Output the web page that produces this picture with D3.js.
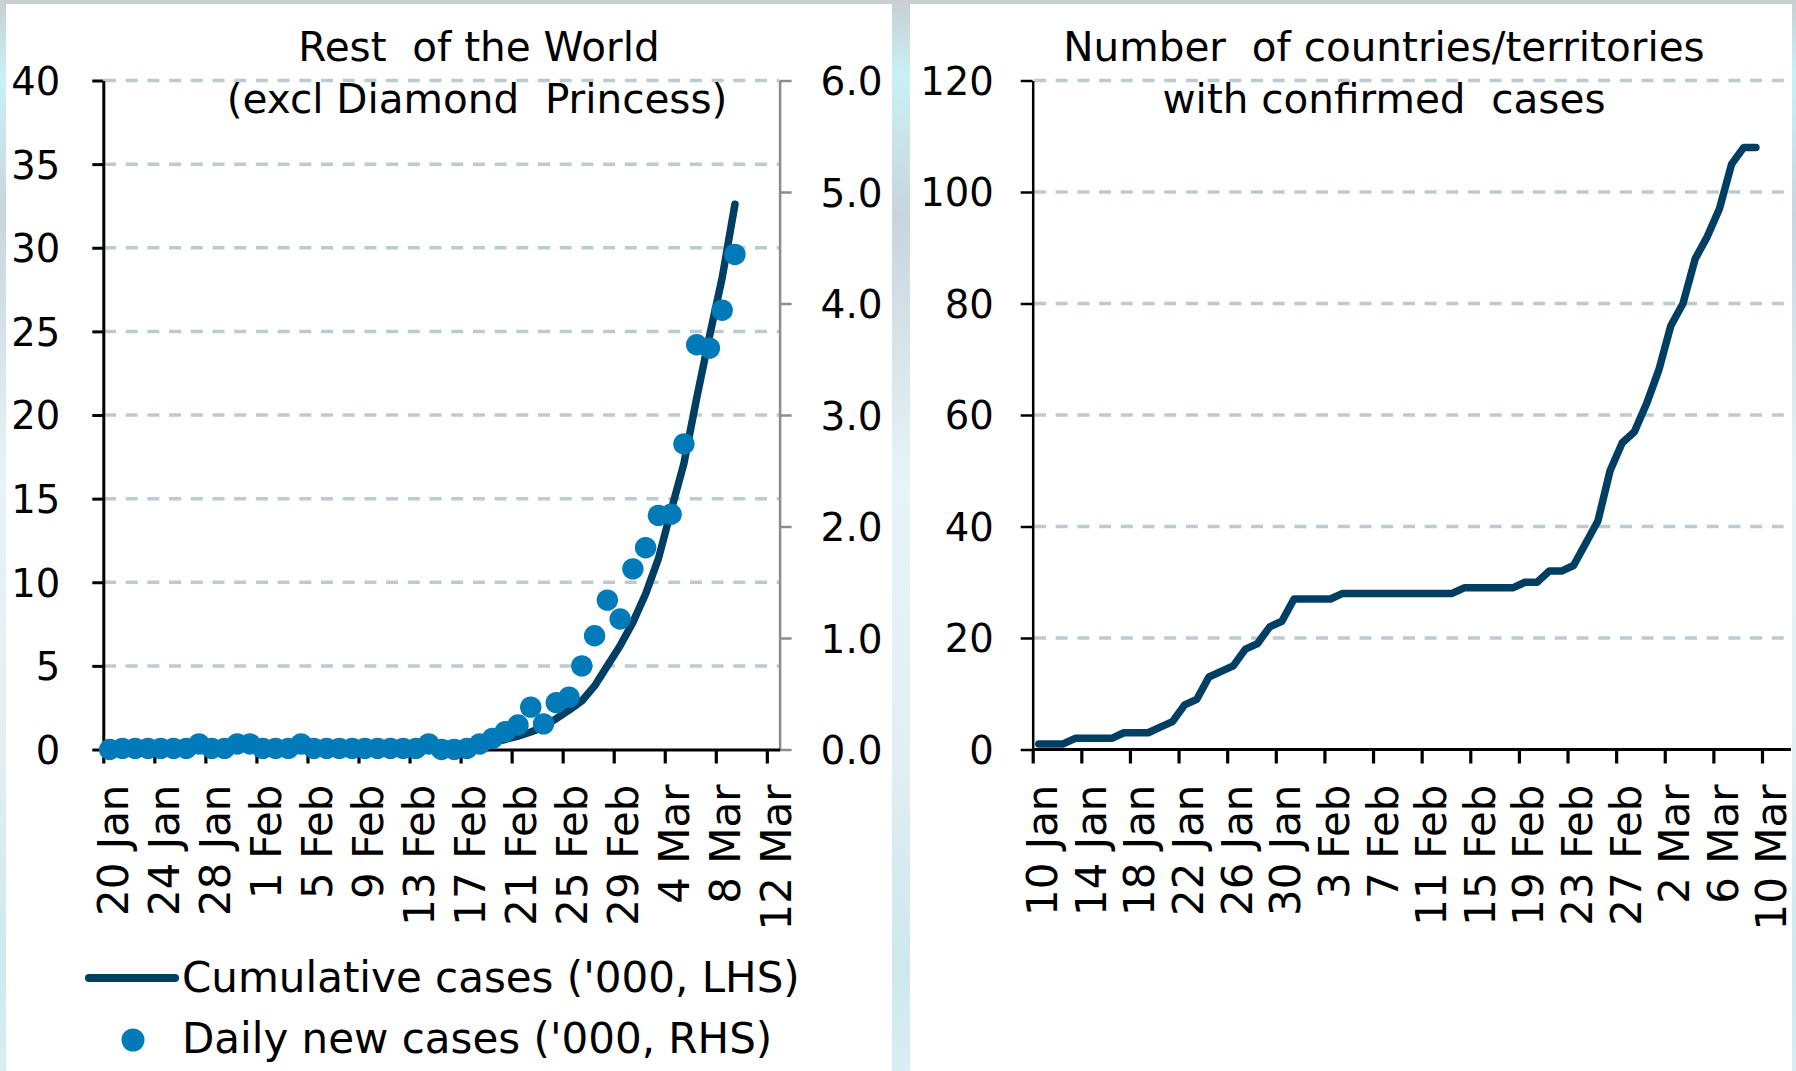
<!DOCTYPE html>
<html>
<head>
<meta charset="utf-8">
<script src="https://cdn.jsdelivr.net/npm/d3@7"></script>
<style>
  html, body { margin: 0; padding: 0; }
  body { width: 1796px; height: 1071px; overflow: hidden; }
  svg text { font-family: "DejaVu Sans", Verdana, sans-serif; fill: #000; white-space: pre; }
</style>
</head>
<body>
<svg id="chart" width="1796" height="1071"></svg>
<script>
// Rest of the World (excl Diamond Princess), one value per day from 20 Jan 2020
const rowStart = new Date(2020, 0, 20);
const rowCumulative = [0.00, 0.01, 0.01, 0.02, 0.02, 0.03, 0.03, 0.05, 0.06, 0.07,
  0.09, 0.11, 0.12, 0.13, 0.14, 0.16, 0.17, 0.18, 0.19, 0.20,
  0.21, 0.22, 0.23, 0.24, 0.25, 0.30, 0.31, 0.32, 0.33, 0.36,
  0.45, 0.60, 0.80, 1.05, 1.35, 1.85, 2.35, 2.90, 3.80, 5.00,
  6.20, 7.60, 9.30, 11.4, 14.3, 17.1, 21.0, 24.7, 28.2, 32.6]; // '000, LHS
const rowDailyNew = [0.00, 0.01, 0.01, 0.01, 0.01, 0.01, 0.01, 0.05, 0.01, 0.01,
  0.05, 0.05, 0.01, 0.01, 0.01, 0.05, 0.01, 0.01, 0.01, 0.01,
  0.01, 0.01, 0.01, 0.01, 0.01, 0.05, 0.00, 0.00, 0.01, 0.05,
  0.10, 0.16, 0.22, 0.38, 0.23, 0.42, 0.47, 0.75, 1.02, 1.34,
  1.17, 1.62, 1.81, 2.10, 2.11, 2.74, 3.63, 3.60, 3.94, 4.44]; // '000, RHS

// number of countries/territories with confirmed cases, daily from 10 Jan 2020
const ctyStart = new Date(2020, 0, 10);
const countries = [1, 1, 1, 2, 2, 2, 2, 3, 3, 3,
  4, 5, 8, 9, 13, 14, 15, 18, 19, 22,
  23, 27, 27, 27, 27, 28, 28, 28, 28, 28,
  28, 28, 28, 28, 28, 29, 29, 29, 29, 29,
  30, 30, 32, 32, 33, 37, 41, 50, 55, 57,
  62, 68, 76, 80, 88, 92, 97, 105, 108, 108];

const lhsTicks = [0, 5, 10, 15, 20, 25, 30, 35, 40];
const rhsTicks = [0, 1, 2, 3, 4, 5, 6];
const ctyTicks = [0, 20, 40, 60, 80, 100, 120];

const NAVY = '#003f63', BLUE = '#007ab8', GRID = '#bccbd2';

const svg = d3.select('#chart');

// background + two white panels
const defs = svg.append('defs');
const bg = defs.append('linearGradient').attr('id', 'bg').attr('x1', 0).attr('y1', 0).attr('x2', 0).attr('y2', 1);
[[0, '#c8ced1'], [0.07, '#c9f1f5'], [0.2, '#c8d5dd'], [0.45, '#e6f4f7'], [0.7, '#e3eef2'], [0.9, '#cde9ee'], [1, '#d8eef3']]
  .forEach(s => bg.append('stop').attr('offset', s[0]).attr('stop-color', s[1]));
svg.append('rect').attr('width', 1796).attr('height', 1071).attr('fill', 'url(#bg)');
svg.append('rect').attr('x', 6).attr('y', 4).attr('width', 886).attr('height', 1067).attr('fill', '#fff');
svg.append('rect').attr('x', 910).attr('y', 4).attr('width', 882).attr('height', 1067).attr('fill', '#fff');

const dayOf = (start, i) => d3.timeHour.offset(d3.timeDay.offset(start, i), 12);
const fmtDate = d3.timeFormat('%-d %b');

function xLabels(g) {
  g.selectAll('.tick text')
    .attr('transform', 'rotate(-90)')
    .attr('x', -35).attr('y', 24).attr('dy', null)
    .style('text-anchor', 'end')
    .style('font-size', '42px');
}
function gridLines(g, scale, ticks, x0, x1) {
  g.selectAll('line.grid').data(ticks.filter(d => d > 0)).enter().append('line')
    .attr('x1', x0).attr('x2', x1)
    .attr('y1', d => scale(d)).attr('y2', d => scale(d))
    .attr('stroke', GRID).attr('stroke-width', 3.5).attr('stroke-dasharray', '12 9.7');
}

// ---------- left chart ----------
const xL = d3.scaleTime().domain([rowStart, new Date(2020, 2, 13)]).range([103.3, 779.6]);
const yL = d3.scaleLinear().domain([0, 40]).range([749.5, 80.5]);
const yR = d3.scaleLinear().domain([0, 6]).range([749.5, 80.5]);

const left = svg.append('g');
gridLines(left, yL, lhsTicks, 104, 779);

const lAxisY = left.append('g').attr('transform', 'translate(103.3,0)')
  .call(d3.axisLeft(yL).tickValues(lhsTicks).tickSize(11).tickSizeOuter(0).tickPadding(32).tickFormat(d3.format('d')));
lAxisY.selectAll('text').style('font-size', '38.5px').attr('dy', '0.36em');
lAxisY.selectAll('line, path').attr('stroke', '#000').attr('stroke-width', 3);

const rAxisY = left.append('g').attr('transform', 'translate(779.6,0)')
  .call(d3.axisRight(yR).tickValues(rhsTicks).tickSize(12).tickSizeOuter(0).tickPadding(29).tickFormat(d3.format('.1f')));
rAxisY.selectAll('text').style('font-size', '39px').attr('dy', '0.36em');
rAxisY.selectAll('line, path').attr('stroke', '#8c8c8c').attr('stroke-width', 2.5);

const lTickDates = d3.timeDay.range(rowStart, new Date(2020, 2, 13), 4);
const lAxisX = left.append('g').attr('transform', 'translate(0,749.5)')
  .call(d3.axisBottom(xL).tickValues(lTickDates).tickSize(14).tickSizeOuter(0).tickFormat(fmtDate));
lAxisX.selectAll('line, path').attr('stroke', '#000').attr('stroke-width', 3.2);
lAxisX.call(xLabels);

left.append('path')
  .datum(rowCumulative)
  .attr('fill', 'none').attr('stroke', NAVY).attr('stroke-width', 7.5)
  .attr('stroke-linejoin', 'round').attr('stroke-linecap', 'round')
  .attr('d', d3.line().x((d, i) => xL(dayOf(rowStart, i))).y(d => yL(d)));

left.selectAll('circle.daily').data(rowDailyNew).enter().append('circle')
  .attr('cx', (d, i) => xL(dayOf(rowStart, i)))
  .attr('cy', d => yR(d))
  .attr('r', 10.7).attr('fill', BLUE);

left.append('text').attr('x', 479).attr('y', 61).attr('text-anchor', 'middle')
  .style('font-size', '40.5px').text('Rest  of the World');
left.append('text').attr('x', 477).attr('y', 113).attr('text-anchor', 'middle')
  .style('font-size', '40.5px').text('(excl Diamond  Princess)');

// legend
left.append('line').attr('x1', 89).attr('x2', 175).attr('y1', 978).attr('y2', 978)
  .attr('stroke', NAVY).attr('stroke-width', 8).attr('stroke-linecap', 'round');
left.append('text').attr('x', 182).attr('y', 992).style('font-size', '42px').text("Cumulative cases ('000, LHS)");
left.append('circle').attr('cx', 133).attr('cy', 1040).attr('r', 11.5).attr('fill', BLUE);
left.append('text').attr('x', 182).attr('y', 1053).style('font-size', '42px').text("Daily new cases ('000, RHS)");

// ---------- right chart ----------
const xC = d3.scaleTime().domain([ctyStart, new Date(2020, 2, 12)]).range([1032.7, 1786.3]);
const yC = d3.scaleLinear().domain([0, 120]).range([749.5, 80.5]);

const right = svg.append('g');
gridLines(right, yC, ctyTicks, 1034, 1790);

const cAxisY = right.append('g').attr('transform', 'translate(1032.7,0)')
  .call(d3.axisLeft(yC).tickValues(ctyTicks).tickSize(12).tickSizeOuter(0).tickPadding(27).tickFormat(d3.format('d')));
cAxisY.selectAll('text').style('font-size', '38.5px').attr('dy', '0.36em');
cAxisY.selectAll('line, path').attr('stroke', '#000').attr('stroke-width', 2.5);

const cTickDates = d3.timeDay.range(ctyStart, new Date(2020, 2, 12), 4);
const cAxisX = right.append('g').attr('transform', 'translate(0,749.5)')
  .call(d3.axisBottom(xC).tickValues(cTickDates).tickSize(14).tickSizeOuter(0).tickFormat(fmtDate));
cAxisX.selectAll('line, path').attr('stroke', '#000').attr('stroke-width', 3.2);
cAxisX.select('path.domain').attr('d', 'M1032.7,0H1791');
cAxisX.call(xLabels);

right.append('path')
  .datum(countries)
  .attr('fill', 'none').attr('stroke', NAVY).attr('stroke-width', 7.5)
  .attr('stroke-linejoin', 'round').attr('stroke-linecap', 'round')
  .attr('d', d3.line().x((d, i) => xC(dayOf(ctyStart, i))).y(d => yC(d)));

right.append('text').attr('x', 1384).attr('y', 61).attr('text-anchor', 'middle')
  .style('font-size', '40.5px').text('Number  of countries/territories');
right.append('text').attr('x', 1384).attr('y', 113).attr('text-anchor', 'middle')
  .style('font-size', '40.5px').text('with confirmed  cases');
</script>
</body>
</html>
